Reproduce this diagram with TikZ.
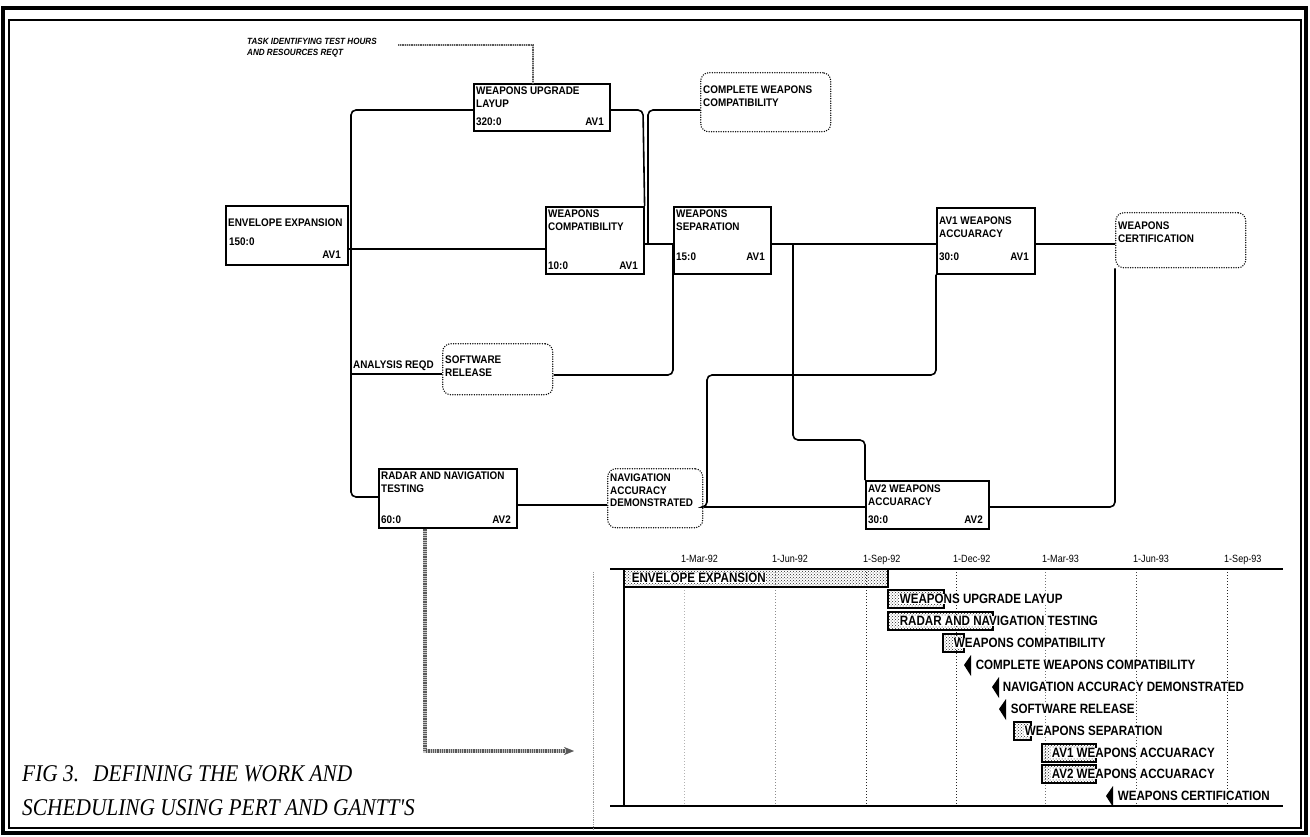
\documentclass[tikz,border=0pt]{standalone}
\usepackage{fontspec}
\setmainfont{Liberation Serif}
\newfontfamily\pf[FakeStretch=0.9]{Liberation Sans}
\newfontfamily\gf[FakeStretch=0.86]{Liberation Sans}
\newfontfamily\capfont[FakeStretch=0.89]{Liberation Serif}
\usetikzlibrary{arrows.meta,patterns,calc}

% task box: name, x1, y1, x2, y2, title, duration, resource, baseline of bottom row
\def\tpad{4}
\newcommand\pertbox[9]{%
  \node[taskbox, minimum width={(#4-#2)*1pt}, minimum height={(#5-#3)*1pt}] (#1) at (#2,#3) {};
  \node[btxt, anchor=north west] (#1-t) at ([shift={(3pt,-\tpad pt)}]#1.north west) {#6};
  \node[btxt, anchor=base west] (#1-d) at (#2+3,#9) {#7};
  \node[btxt, anchor=base east] (#1-r) at (#4-5,#9) {#8};
}
% milestone box: name, x1, y1, x2, y2, text, vertical offset of text
\newcommand\milebox[7]{%
  \node[milestonebox, minimum width={(#4-#2)*1pt}, minimum height={(#5-#3)*1pt}] (#1) at (#2,#3) {};
  \node[btxt, anchor=west] (#1-t) at ([shift={(3pt,#7)}]#1.west) {#6};
}
% gantt milestone flag
\newcommand\flag[2]{%
  \fill (#1,#2) -- (#1+7,#2-10) -- (#1+7,#2+11) -- cycle;
}

\begin{document}
\begin{tikzpicture}[x=1pt,y=-1pt,
  taskbox/.style={draw, line width=1.6pt, inner sep=0pt, anchor=north west},
  milestonebox/.style={draw, dash pattern=on 0pt off 2.4pt, line width=1.5pt, line cap=round,
    rounded corners=8pt, inner sep=0pt, anchor=north west},
  btxt/.style={font=\pf\bfseries\fontsize{11}{12.5}\selectfont, inner sep=0pt, align=left},
  conn/.style={line width=1.6pt, rounded corners=5pt},
  hatchline/.style={line width=3.5pt, draw=black!65, dash pattern=on 0.9pt off 0.9pt,
    preaction={draw=black!22, solid, line width=3.5pt}},
  thinhatch/.style={line width=2.2pt, draw=black!65, dash pattern=on 0.9pt off 0.9pt,
    preaction={draw=black!22, solid, line width=2.2pt}},
  ganttbar/.style={draw, line width=1.3pt, pattern=crosshatch dots, pattern color=black!85},
  gtxt/.style={font=\gf\bfseries\fontsize{13.5}{14}\selectfont, inner sep=0.6pt, fill=white, anchor=west},
  dtxt/.style={font=\gf\fontsize{10.5}{12}\selectfont, inner sep=0pt, anchor=base west}
]
\useasboundingbox (0,0) rectangle (1310,837);

% page frame
\draw[line width=4pt] (3,8) rectangle (1306,833);
\draw[line width=1.1pt] (9,20) rectangle (1301,828);

% ---------- PERT network ----------
\node[btxt, font=\pf\bfseries\itshape\fontsize{9}{11}\selectfont, anchor=north west]
  (note) at (247,38) {TASK IDENTIFYING TEST HOURS\\AND RESOURCES REQT};

\pertbox{upg}{473}{83}{609}{130}{WEAPONS UPGRADE\\LAYUP}{320:0}{AV1}{126}
\pertbox{cmp}{545}{206}{643}{273}{WEAPONS\\COMPATIBILITY}{10:0}{AV1}{270}
\pertbox{sep}{673}{206}{770}{273}{WEAPONS\\SEPARATION}{15:0}{AV1}{261}
\def\tpad{10}
\pertbox{avo}{936}{207}{1034}{273}{AV1 WEAPONS\\ACCUARACY}{30:0}{AV1}{261}
\def\tpad{4}
\pertbox{rad}{378}{468}{516}{527}{RADAR AND NAVIGATION\\TESTING}{60:0}{AV2}{523}
\def\tpad{5}
\pertbox{avt}{865}{480}{988}{528}{AV2 WEAPONS\\ACCUARACY}{30:0}{AV2}{523}

\node[taskbox, minimum width=122pt, minimum height=59pt] (env) at (225,205) {};
\node[btxt, anchor=north west] (env-t) at ([shift={(3pt,-14pt)}]env.north west) {ENVELOPE EXPANSION};
\node[btxt, anchor=base west] (env-d) at (229,246) {150:0};
\node[btxt, anchor=base east] (env-r) at (341,259) {AV1};

\milebox{cwc}{700}{72}{830}{131}{COMPLETE WEAPONS\\COMPATIBILITY}{6pt}
\milebox{cert}{1115}{212}{1245}{267}{WEAPONS\\CERTIFICATION}{8pt}
\milebox{srl}{442}{343}{552}{394}{SOFTWARE\\RELEASE}{3pt}
\milebox{nav}{607}{468}{702}{527}{NAVIGATION\\ACCURACY\\DEMONSTRATED}{8pt}

\node[btxt, anchor=base west] (anl) at (353,368) {ANALYSIS REQD};

% connectors
\coordinate (tk1) at (351,110);
\coordinate (tk2) at (351,497);
\draw[conn] (upg.west |- tk1) -- (tk1) -- (tk2) -- (rad.west |- tk2);
\draw[conn] (env.east |- 0,249) -- (cmp.west |- 0,249);
\draw[conn] (tk1 |- 0,374) -- (srl.west |- 0,374);

\coordinate (up) at (643,110);
\draw[conn] (upg.east |- up) -- (up) -- (cmp.north east);
\coordinate (cw) at (648,110);
\draw[conn] (cwc.west |- cw) -- (cw) -- (cw |- 0,244);
\draw[conn] (cmp.east |- 0,244) -- (sep.west |- 0,244);
\draw[conn] (sep.east |- 0,244) -- (avo.west |- 0,244);
\draw[conn] (avo.east |- 0,244) -- (cert.west |- 0,244);
\draw[conn] (srl.east |- 0,375) -| (sep.west |- 0,244);

\coordinate (sj) at (793,244);
\draw[conn] (sj) |- (avt.north west |- 0,440) -- (avt.north west);

\draw[conn] (rad.east |- 0,505) -- (nav.west |- 0,505);
\draw[conn] (nav.east |- 0,507) -- (avt.west |- 0,507);
\coordinate (nj) at (707,375);
\draw[conn] (nav.east |- 0,507) -| (nj) -| (avo.south west);
\draw[conn] (avt.east |- 0,507) -| (cert.south west);

% annotation pointer and link to the schedule
\coordinate (ns) at (398,45);
\coordinate (ne) at (533,45);
\draw[thinhatch] (ns) -- (ne) -- (upg.north -| ne);
\coordinate (hk) at (425,751);
\coordinate (he) at (574,751);
\draw[hatchline, -{Stealth[length=10pt,width=8pt]}] (rad.south -| hk) -- (hk) -- (he);

% ---------- Gantt chart ----------
\draw[black!40, densely dotted, line width=0.8pt] (593,572) -- (593,830);
\foreach \x/\c/\d in {684/30/1-Mar-92, 775/45/1-Jun-92, 866/85/1-Sep-92,
                      956/85/1-Dec-92, 1045/55/1-Mar-93, 1136/75/1-Jun-93, 1227/85/1-Sep-93} {
  \draw[black!\c, dotted, line width=1pt] (\x,572) -- (\x,806);
  \node[dtxt] (d\x) at (\x-3,562) {\d};
}
\draw[line width=1.4pt] (610,569) -- (1283,569);
\draw[line width=1.4pt] (610,806) -- (1283,806);
\draw[line width=1.4pt] (624,569) -- (624,806);

\draw[ganttbar] (624,569) rectangle (888,587);
\draw[ganttbar] (888,590) rectangle (944,608);
\draw[ganttbar] (888,612) rectangle (993,630);
\draw[ganttbar] (943,634) rectangle (964,652);
\draw[ganttbar] (1014,722) rectangle (1031,740);
\draw[ganttbar] (1042,744) rectangle (1096,762);
\draw[ganttbar] (1042,765) rectangle (1096,783);

\flag{964}{665}
\flag{992}{687}
\flag{999}{709}
\flag{1106}{796}

\node[gtxt] (g1) at (631,578) {ENVELOPE EXPANSION};
\node[gtxt] (g2) at (899,599) {WEAPONS UPGRADE LAYUP};
\node[gtxt] (g3) at (899,621) {RADAR AND NAVIGATION TESTING};
\node[gtxt] (g4) at (953,643) {WEAPONS COMPATIBILITY};
\node[gtxt] (g5) at (975,665) {COMPLETE WEAPONS COMPATIBILITY};
\node[gtxt] (g6) at (1002,687) {NAVIGATION ACCURACY DEMONSTRATED};
\node[gtxt] (g7) at (1010,709) {SOFTWARE RELEASE};
\node[gtxt] (g8) at (1024,731) {WEAPONS SEPARATION};
\node[gtxt] (g9) at (1051,753) {AV1 WEAPONS ACCUARACY};
\node[gtxt] (g10) at (1051,774) {AV2 WEAPONS ACCUARACY};
\node[gtxt] (g11) at (1117,796) {WEAPONS CERTIFICATION};

% caption
\node[font=\capfont\itshape\fontsize{24}{30}\selectfont, inner sep=0pt, anchor=base west]
  (cap1) at (22,781) {FIG 3.\hspace{14pt}DEFINING THE WORK AND};
\node[font=\capfont\itshape\fontsize{24}{30}\selectfont, inner sep=0pt, anchor=base west]
  (cap2) at (22,815) {SCHEDULING USING PERT AND GANTT'S};
\end{tikzpicture}
\end{document}
